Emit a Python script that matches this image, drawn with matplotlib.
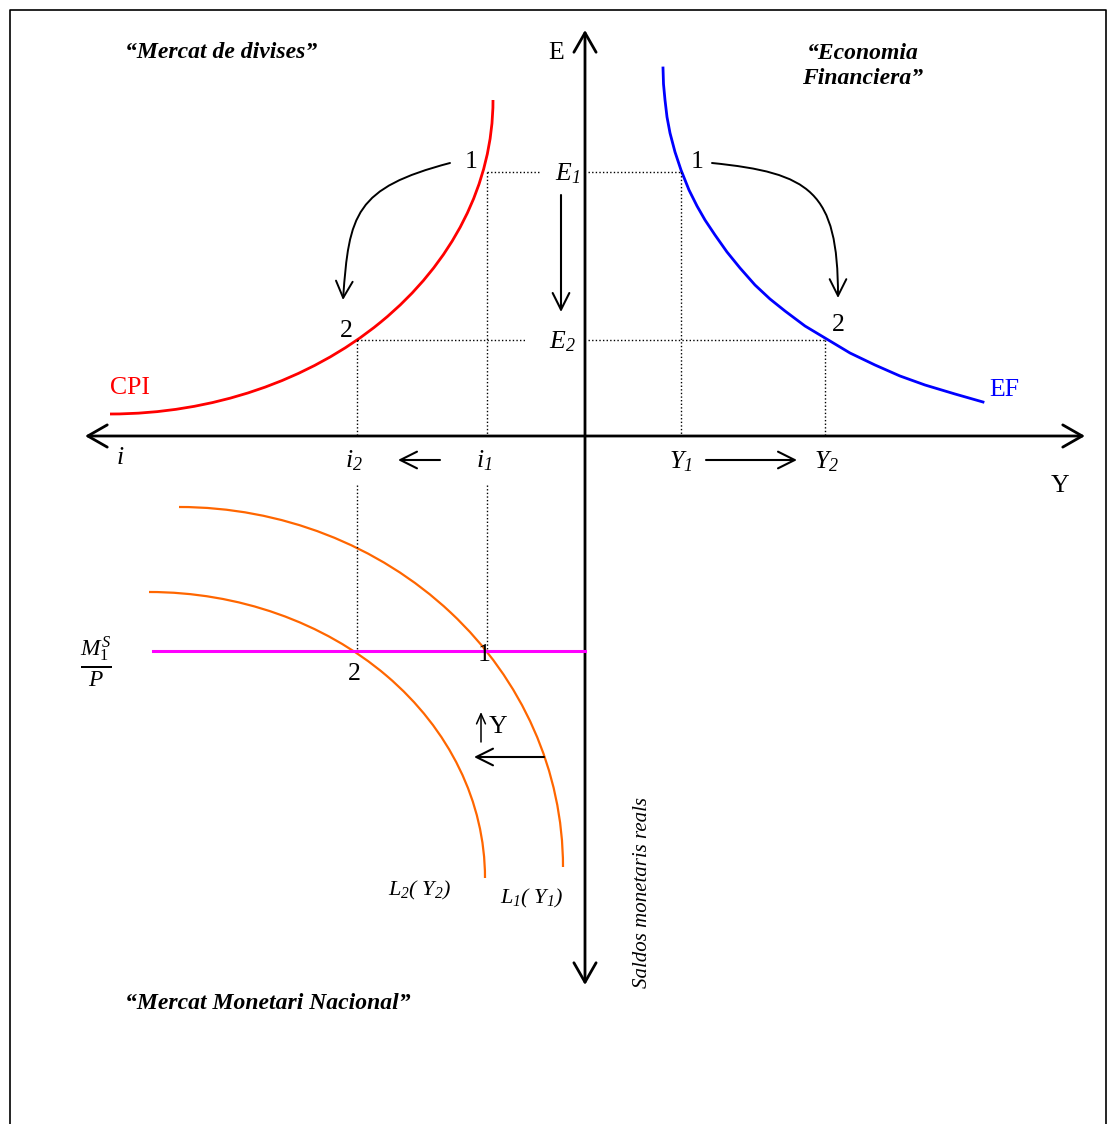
import matplotlib
matplotlib.use("Agg")
import matplotlib.pyplot as plt
from matplotlib.patches import FancyArrowPatch, Arc
from matplotlib.path import Path

plt.rcParams["font.family"] = ["Liberation Serif", "DejaVu Serif"]
plt.rcParams["mathtext.fontset"] = "custom"
plt.rcParams["mathtext.rm"] = "Liberation Serif"
plt.rcParams["mathtext.it"] = "Liberation Serif:italic"
plt.rcParams["mathtext.bf"] = "Liberation Serif:bold"
# italic digits for subscripts (\mathsf)
plt.rcParams["mathtext.sf"] = "Liberation Serif:italic"

# --- curves (origin = crossing of the axes) ---
# CPI: quarter ellipse, centre and half-axes
cpi_center = (-475, 336)
cpi_radii = (383, 314)

# EF schedule, read point by point
ef_y = [78, 78.5, 80, 82, 85, 90, 96, 104, 112, 120, 130, 142, 155, 170, 185, 200,
        220, 240, 265, 290, 315, 340, 370, 398]
ef_e = [368, 352, 336, 319, 303, 284, 266, 246, 230, 216, 201, 184, 168, 151, 137, 125,
        110, 98, 83, 71, 60, 51, 42, 34]

# money demand L1(Y1), L2(Y2): quarter ellipses
l1_center = (-406, -431)
l1_radii = (384, 360)
l2_center = (-436, -442)
l2_radii = (336, 286)

# equilibrium values
E1, E2 = 264, 96
i1, i2 = -98, -228
Y1, Y2 = 96, 240
MS_P = -215

RED = "#ff0000"
BLUE = "#0000ff"
ORANGE = "#ff6600"
MAGENTA = "#ff00ff"
FS = 18.5

fig = plt.figure(figsize=(11.09, 11.24), dpi=100)
ax = fig.add_axes([0, 0, 1, 1])
ax.set_xlim(-585, 524)
ax.set_ylim(-688, 436)
ax.axis("off")

# outer frame
ax.plot([-575, -575, 521, 521], [-700, 426, 426, -700], color="black", lw=1.2, clip_on=False)


def arrow(p0, p1, style="->,head_length=0.6,head_width=0.3", lw=1.5, ms=20):
    ax.add_patch(FancyArrowPatch(p0, p1, arrowstyle=style, mutation_scale=ms,
                                 lw=lw, color="black", shrinkA=0, shrinkB=0))


def curved_arrow(verts):
    codes = [Path.MOVETO] + [Path.CURVE4] * (len(verts) - 1)
    ax.add_patch(FancyArrowPatch(path=Path(verts, codes),
                                 arrowstyle="->,head_length=0.6,head_width=0.3",
                                 mutation_scale=20, lw=1.4, color="black"))


def quarter(center, radii, t1, t2, color, lw):
    ax.add_patch(Arc(center, 2 * radii[0], 2 * radii[1], theta1=t1, theta2=t2,
                     color=color, lw=lw))


# axes
arrow((-500, 0), (500, 0), style="<->,head_length=0.7,head_width=0.4", lw=2)
arrow((0, -549), (0, 406), style="<->,head_length=0.7,head_width=0.4", lw=2)

# curves
quarter(cpi_center, cpi_radii, 270, 360, RED, 2)
ax.plot(ef_y, ef_e, color=BLUE, lw=2, solid_joinstyle="round")
quarter(l1_center, l1_radii, 0, 90, ORANGE, 1.6)
quarter(l2_center, l2_radii, 0, 90, ORANGE, 1.6)
ax.plot([-432, 0], [MS_P, MS_P], color=MAGENTA, lw=2.2)

# dotted guides
dot = dict(color="black", lw=1, linestyle=(0, (1, 1.6)))
ax.plot([i1, -45], [E1, E1], **dot)
ax.plot([3, Y1], [E1, E1], **dot)
ax.plot([i2, -60], [E2, E2], **dot)
ax.plot([3, Y2], [E2, E2], **dot)
ax.plot([i1, i1], [E1, 0], **dot)
ax.plot([i2, i2], [E2, 0], **dot)
ax.plot([Y1, Y1], [E1, 0], **dot)
ax.plot([Y2, Y2], [E2, 0], **dot)
ax.plot([i1, i1], [-49, MS_P], **dot)
ax.plot([i2, i2], [-49, MS_P], **dot)

# movement arrows
arrow((-24, 241), (-24, 124))
arrow((-145, -24), (-187, -24))
arrow((121, -24), (212, -24))
arrow((-41, -321), (-111, -321))
arrow((-104, -306), (-104, -276), style="->,head_length=0.45,head_width=0.2", lw=1.1, ms=16)
curved_arrow([(-135, 273), (-230, 248), (-236, 222), (-242, 136)])
curved_arrow([(127, 273), (225, 263), (253, 245), (253, 138)])

# titles
title_kw = dict(fontsize=17, fontweight="bold", style="italic")
ax.text(-460, 384, "\u201cMercat de divises\u201d", ha="left", va="center", **title_kw)
ax.text(278, 370, "\u201cEconomia\nFinanciera\u201d", ha="center", va="center",
        linespacing=1.3, **title_kw)
ax.text(-460, -567, "\u201cMercat Monetari Nacional\u201d", ha="left", va="center", **title_kw)

# axis names and points
ax.text(-29, 383, "E", ha="center", va="center", fontsize=FS)
ax.text(475, -50, "Y", ha="center", va="center", fontsize=FS)
ax.text(-465, -22, r"$\mathit{i}$", ha="center", va="center", fontsize=FS)
for x, y, s in [(-114, 274, "1"), (-239, 105, "2"), (112, 274, "1"), (253, 111, "2"),
                (-231, -238, "2"), (-101, -219, "1")]:
    ax.text(x, y, s, ha="center", va="center", fontsize=FS)

ax.text(-17, 262, r"$E_{\mathsf{1}}$", ha="center", va="center", fontsize=FS)
ax.text(-23, 94, r"$E_{\mathsf{2}}$", ha="center", va="center", fontsize=FS)
ax.text(i2 - 3, -25, r"$i_{\mathsf{2}}$", ha="center", va="center", fontsize=FS)
ax.text(i1 - 3, -25, r"$i_{\mathsf{1}}$", ha="center", va="center", fontsize=FS)
ax.text(Y1, -26, r"$Y_{\mathsf{1}}$", ha="center", va="center", fontsize=FS)
ax.text(Y2 + 1, -26, r"$Y_{\mathsf{2}}$", ha="center", va="center", fontsize=FS)

ax.text(-475, 48, "CPI", ha="left", va="center", fontsize=FS, color=RED)
ax.text(404, 46, "EF", ha="left", va="center", fontsize=FS, color=BLUE)

ax.text(-489, -226, r"$\frac{M_{\mathrm{1}}^{S}}{P}$", ha="center", va="center", fontsize=24)
ax.text(-87, -291, "Y", ha="center", va="center", fontsize=FS)

ax.text(-165, -454, r"$L_{\mathsf{2}}\mathsf{(}\ Y_{\mathsf{2}}\mathsf{)}$",
        ha="center", va="center", fontsize=16)
ax.text(-53, -462, r"$L_{\mathsf{1}}\mathsf{(}\ Y_{\mathsf{1}}\mathsf{)}$",
        ha="center", va="center", fontsize=16)
ax.text(58, -456, "Saldos monetaris reals", rotation=90, ha="center", va="center",
        fontsize=15, style="italic")

fig.savefig("out.png", dpi=100, facecolor="white")
